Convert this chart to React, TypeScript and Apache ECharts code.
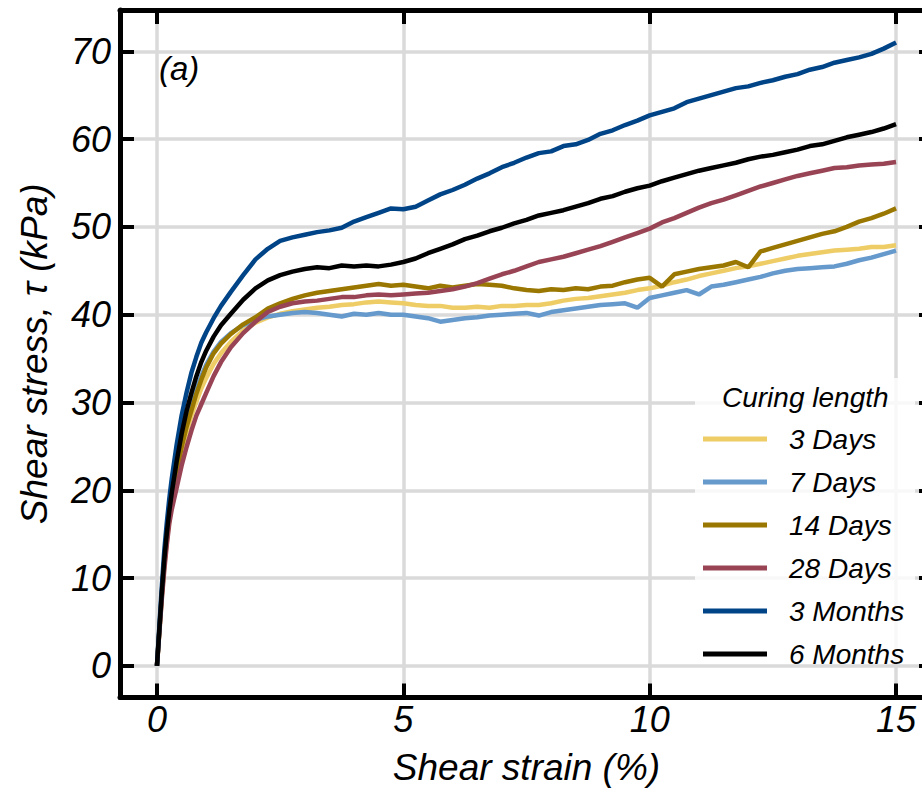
import React, { useEffect, useRef } from "react";
import * as echarts from "echarts";

// Shear strain (%) sample positions
const X = [
  0, 0.05, 0.1, 0.15, 0.2, 0.25, 0.3, 0.4, 0.5, 0.6, 0.7, 0.8, 0.9, 1.0, 1.15, 1.3, 1.5, 1.75, 2.0, 2.25, 2.5, 2.75, 3.0,
  3.25, 3.5, 3.75, 4.0, 4.25, 4.5, 4.75, 5.0,
  5.25, 5.5, 5.75, 6.0, 6.25, 6.5, 6.75, 7.0,
  7.25, 7.5, 7.75, 8.0, 8.25, 8.5, 8.75, 9.0,
  9.25, 9.5, 9.75, 10.0, 10.25, 10.5, 10.75, 11.0,
  11.25, 11.5, 11.75, 12.0, 12.25, 12.5, 12.75, 13.0,
  13.25, 13.5, 13.75, 14.0, 14.25, 14.5, 14.75, 15.0,
];

// Shear stress (kPa) per curing length
const DAYS3 = [
  0, 4.0, 8.0, 11.4, 14.2, 16.5, 18.5, 21.7, 24.4, 26.6, 28.5, 30.1, 31.6, 32.8, 34.4, 35.6, 36.9, 38.2, 39.1, 39.7, 40.1, 40.4, 40.6,
  40.8, 40.9, 41.1, 41.2, 41.4, 41.5, 41.4, 41.3,
  41.1, 41.0, 41.0, 40.8, 40.8, 40.9, 40.8, 41.0,
  41.0, 41.1, 41.1, 41.3, 41.6, 41.8, 41.9, 42.1,
  42.3, 42.5, 42.8, 43.0, 43.3, 43.7, 44.0, 44.4,
  44.7, 45.0, 45.3, 45.5, 45.8, 46.1, 46.4, 46.7,
  46.9, 47.1, 47.3, 47.4, 47.5, 47.7, 47.7, 47.9,
];
const DAYS7 = [
  0, 4.1, 8.2, 11.8, 14.7, 17.1, 19.2, 22.6, 25.4, 27.8, 29.7, 31.5, 33.0, 34.3, 35.8, 36.9, 37.9, 38.8, 39.4, 39.8, 40.0, 40.2, 40.3,
  40.2, 40.0, 39.8, 40.1, 40.0, 40.2, 40.0, 40.0,
  39.8, 39.6, 39.2, 39.4, 39.6, 39.7, 39.9, 40.0,
  40.1, 40.2, 39.9, 40.3, 40.5, 40.7, 40.9, 41.1,
  41.2, 41.3, 40.8, 41.9, 42.2, 42.5, 42.8, 42.3,
  43.2, 43.4, 43.7, 44.0, 44.3, 44.7, 45.0, 45.2,
  45.3, 45.4, 45.5, 45.8, 46.2, 46.5, 46.9, 47.3,
];
const DAYS14 = [
  0, 4.1, 8.2, 11.7, 14.5, 16.8, 18.8, 22.1, 24.9, 27.2, 29.1, 31.0, 32.6, 34.0, 35.6, 36.7, 37.8, 38.9, 39.7, 40.7, 41.3, 41.8, 42.2,
  42.5, 42.7, 42.9, 43.1, 43.3, 43.5, 43.3, 43.4,
  43.2, 43.0, 43.3, 43.1, 43.3, 43.5, 43.4, 43.3,
  43.0, 42.8, 42.7, 42.9, 42.8, 43.0, 42.9, 43.2,
  43.3, 43.7, 44.0, 44.2, 43.2, 44.6, 44.9, 45.2,
  45.4, 45.6, 46.0, 45.4, 47.2, 47.6, 48.0, 48.4,
  48.8, 49.2, 49.5, 50.0, 50.6, 51.0, 51.5, 52.1,
];
const DAYS28 = [
  0, 3.9, 7.7, 11.0, 13.8, 16.2, 17.8, 20.3, 22.8, 24.9, 26.8, 28.5, 29.8, 31.1, 33.0, 34.6, 36.3, 37.9, 39.2, 40.3, 40.9, 41.3, 41.5,
  41.6, 41.8, 42.0, 42.0, 42.2, 42.3, 42.2, 42.3,
  42.4, 42.5, 42.7, 42.9, 43.2, 43.6, 44.1, 44.6,
  45.0, 45.5, 46.0, 46.3, 46.6, 47.0, 47.4, 47.8,
  48.3, 48.8, 49.3, 49.8, 50.5, 51.0, 51.6, 52.2,
  52.7, 53.1, 53.6, 54.1, 54.6, 55.0, 55.4, 55.8,
  56.1, 56.4, 56.7, 56.8, 57.0, 57.1, 57.2, 57.4,
];
const MONTHS3 = [
  0, 4.6, 9.2, 13.2, 16.3, 19.0, 21.3, 25.2, 28.5, 31.1, 33.4, 35.2, 36.8, 38.0, 39.6, 41.0, 42.6, 44.5, 46.3, 47.5, 48.4, 48.8, 49.1,
  49.4, 49.6, 49.9, 50.6, 51.1, 51.6, 52.1, 52.0,
  52.3, 53.0, 53.7, 54.2, 54.8, 55.5, 56.1, 56.8,
  57.3, 57.9, 58.4, 58.6, 59.2, 59.4, 59.9, 60.6,
  61.0, 61.6, 62.1, 62.7, 63.1, 63.5, 64.2, 64.6,
  65.0, 65.4, 65.8, 66.0, 66.4, 66.7, 67.1, 67.4,
  67.9, 68.2, 68.7, 69.0, 69.3, 69.7, 70.3, 71.0,
];
const MONTHS6 = [
  0, 4.3, 8.5, 12.2, 15.1, 17.6, 19.7, 23.3, 26.4, 29.0, 31.1, 33.0, 34.6, 35.9, 37.5, 38.8, 40.1, 41.7, 43.0, 43.9, 44.5, 44.9, 45.2,
  45.4, 45.3, 45.6, 45.5, 45.6, 45.5, 45.7, 46.0,
  46.4, 47.0, 47.5, 48.0, 48.6, 49.0, 49.5, 49.9,
  50.4, 50.8, 51.3, 51.6, 51.9, 52.3, 52.7, 53.2,
  53.5, 54.0, 54.4, 54.7, 55.2, 55.6, 56.0, 56.4,
  56.7, 57.0, 57.3, 57.7, 58.0, 58.2, 58.5, 58.8,
  59.2, 59.4, 59.8, 60.2, 60.5, 60.8, 61.2, 61.7,
];

const SERIES_NAMES = ["3 Days", "7 Days", "14 Days", "28 Days", "3 Months", "6 Months"];
const SERIES_VALUES = [DAYS3, DAYS7, DAYS14, DAYS28, MONTHS3, MONTHS6];
const SERIES_COLORS = ["#EECC66", "#6699CC", "#997700", "#994455", "#004488", "#000000"];

const X_TICKS = [0, 5, 10, 15];
const Y_TICKS = [0, 10, 20, 30, 40, 50, 60, 70];

const FONT = "'Liberation Sans', Arial, sans-serif";

export default function App() {
  const ref = useRef<HTMLDivElement>(null);

  useEffect(() => {
    if (!ref.current) return;
    const chart = echarts.init(ref.current, null, { renderer: "svg" });

    const axisCommon = {
      type: "value" as const,
      axisLine: { show: true, onZero: false, lineStyle: { color: "#000", width: 5 } },
      axisTick: { show: true, inside: true, length: 14, lineStyle: { color: "#000", width: 4 } },
    };
    const labelStyle = {
      fontFamily: FONT,
      fontStyle: "italic" as const,
      fontSize: 36,
      color: "#000",
    };
    const titleStyle = { ...labelStyle, fontSize: 37 };

    const series = SERIES_NAMES.map((name, k) => ({
      name,
      type: "line" as const,
      color: SERIES_COLORS[k],
      showSymbol: false,
      symbol: "none",
      lineStyle: { width: 4.5, color: SERIES_COLORS[k] },
      z: 2 + k,
      data: X.map((x, i) => [x, SERIES_VALUES[k][i]]),
    }));

    chart.setOption({
      animation: false,
      backgroundColor: "#fff",
      grid: { left: 120, top: 10, right: -11, bottom: 94.5, containLabel: false, outerBoundsMode: "none" },
      xAxis: [
        {
          ...axisCommon,
          position: "bottom",
          min: -0.75,
          max: 15.75,
          axisTick: { ...axisCommon.axisTick, customValues: X_TICKS },
          axisLabel: { ...labelStyle, margin: 4, customValues: X_TICKS },
          splitLine: { show: true, lineStyle: { color: "#dadada", width: 3.5 } },
          name: "Shear strain (%)",
          nameLocation: "middle",
          nameGap: 51,
          nameTextStyle: { ...titleStyle },
        },
        {
          ...axisCommon,
          position: "top",
          min: -0.75,
          max: 15.75,
          axisTick: { ...axisCommon.axisTick, customValues: X_TICKS },
          axisLabel: { show: false },
          splitLine: { show: false },
        },
      ],
      yAxis: [
        {
          ...axisCommon,
          position: "left",
          min: -3.6,
          max: 74.7,
          axisTick: { ...axisCommon.axisTick, customValues: Y_TICKS },
          axisLabel: { ...labelStyle, margin: 9, customValues: Y_TICKS },
          splitLine: { show: true, lineStyle: { color: "#dadada", width: 3.5 } },
          name: "Shear stress, τ (kPa)",
          nameLocation: "middle",
          nameGap: 67,
          nameTextStyle: { ...titleStyle },
        },
        {
          ...axisCommon,
          position: "right",
          min: -3.6,
          max: 74.7,
          axisTick: { ...axisCommon.axisTick, customValues: Y_TICKS },
          axisLabel: { show: false },
          splitLine: { show: false },
        },
      ],
      legend: {
        data: SERIES_NAMES,
        orient: "vertical",
        left: 703,
        top: 423,
        padding: 0,
        itemGap: 11,
        itemWidth: 64,
        itemHeight: 5,
        icon: "rect",
        selectedMode: false,
        textStyle: {
          fontFamily: FONT,
          fontStyle: "italic",
          fontSize: 28,
          lineHeight: 32,
          color: "#000",
          padding: [0, 0, 0, 17],
        },
      },
      graphic: [
        {
          type: "rect",
          z: 3,
          silent: true,
          shape: { x: 695, y: 378, width: 220, height: 286 },
          style: { fill: "rgba(255,255,255,0.8)" },
        },
        {
          type: "text",
          z: 5,
          x: 722,
          y: 397,
          style: {
            text: "Curing length",
            fontFamily: FONT,
            fontStyle: "italic",
            fontSize: 28,
            fill: "#000",
            verticalAlign: "middle",
          },
        },
        {
          type: "text",
          z: 5,
          x: 159,
          y: 68,
          style: {
            text: "(a)",
            fontFamily: FONT,
            fontStyle: "italic",
            fontSize: 33,
            fill: "#000",
            verticalAlign: "middle",
          },
        },
      ],
      series,
    });

    return () => chart.dispose();
  }, []);

  return (
    <div
      ref={ref}
      style={{ position: "fixed", left: 0, top: 0, width: 922, height: 792, background: "#fff" }}
    />
  );
}
